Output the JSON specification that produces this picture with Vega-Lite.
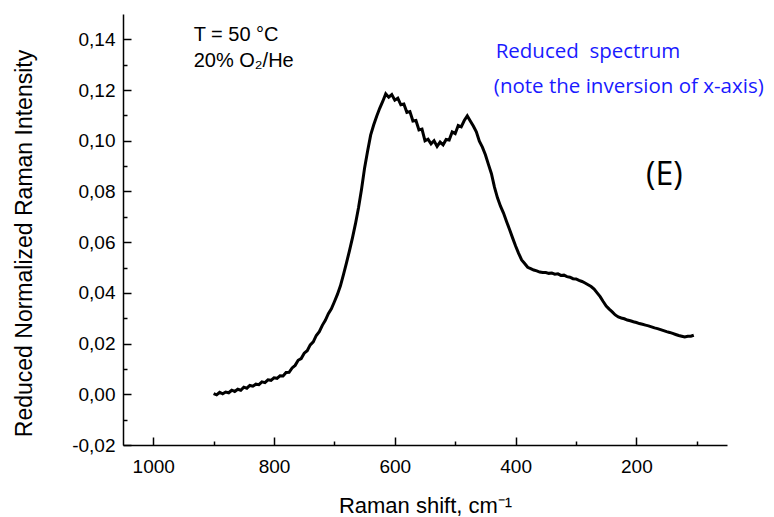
{
  "$schema": "https://vega.github.io/schema/vega-lite/v6.json",
  "width": 604,
  "height": 431,
  "autosize": {"type": "none"},
  "padding": {"left": 123, "top": 14, "right": 47, "bottom": 72},
  "background": "white",
  "config": {"view": {"stroke": null}},
  "datasets": {
    "spectrum": [
      {"shift": 900, "intensity": 0.0003}, {"shift": 895, "intensity": -0.0002}, {"shift": 890, "intensity": 0.0008}, {"shift": 885, "intensity": 0.0002}, {"shift": 880, "intensity": 0.0009}, {"shift": 875, "intensity": 0.0006}, {"shift": 870, "intensity": 0.0016}, {"shift": 865, "intensity": 0.0011}, {"shift": 860, "intensity": 0.002}, {"shift": 855, "intensity": 0.0016}, {"shift": 850, "intensity": 0.0028}, {"shift": 845, "intensity": 0.0024}, {"shift": 840, "intensity": 0.0035}, {"shift": 835, "intensity": 0.0032}, {"shift": 830, "intensity": 0.004}, {"shift": 825, "intensity": 0.0038}, {"shift": 820, "intensity": 0.0049}, {"shift": 815, "intensity": 0.0046}, {"shift": 810, "intensity": 0.0057}, {"shift": 805, "intensity": 0.0055}, {"shift": 800, "intensity": 0.0065}, {"shift": 795, "intensity": 0.0063}, {"shift": 790, "intensity": 0.0073}, {"shift": 785, "intensity": 0.0072}, {"shift": 780, "intensity": 0.0086}, {"shift": 775, "intensity": 0.0087}, {"shift": 770, "intensity": 0.0104}, {"shift": 765, "intensity": 0.0114}, {"shift": 760, "intensity": 0.0134}, {"shift": 755, "intensity": 0.0141}, {"shift": 750, "intensity": 0.0162}, {"shift": 745, "intensity": 0.0172}, {"shift": 740, "intensity": 0.0195}, {"shift": 735, "intensity": 0.0207}, {"shift": 730, "intensity": 0.0232}, {"shift": 725, "intensity": 0.0247}, {"shift": 720, "intensity": 0.0272}, {"shift": 715, "intensity": 0.0292}, {"shift": 710, "intensity": 0.0318}, {"shift": 705, "intensity": 0.0337}, {"shift": 700, "intensity": 0.0365}, {"shift": 695, "intensity": 0.0394}, {"shift": 690, "intensity": 0.0428}, {"shift": 685, "intensity": 0.0472}, {"shift": 680, "intensity": 0.0518}, {"shift": 675, "intensity": 0.0567}, {"shift": 670, "intensity": 0.0618}, {"shift": 665, "intensity": 0.0674}, {"shift": 660, "intensity": 0.0737}, {"shift": 655, "intensity": 0.081}, {"shift": 650, "intensity": 0.0893}, {"shift": 645, "intensity": 0.096}, {"shift": 640, "intensity": 0.1022}, {"shift": 635, "intensity": 0.1062}, {"shift": 630, "intensity": 0.1097}, {"shift": 625, "intensity": 0.1128}, {"shift": 620, "intensity": 0.1155}, {"shift": 615, "intensity": 0.1185}, {"shift": 610, "intensity": 0.1172}, {"shift": 605, "intensity": 0.1182}, {"shift": 600, "intensity": 0.116}, {"shift": 595, "intensity": 0.1168}, {"shift": 590, "intensity": 0.1142}, {"shift": 585, "intensity": 0.1145}, {"shift": 580, "intensity": 0.1112}, {"shift": 575, "intensity": 0.1115}, {"shift": 570, "intensity": 0.1078}, {"shift": 565, "intensity": 0.108}, {"shift": 560, "intensity": 0.1043}, {"shift": 555, "intensity": 0.1046}, {"shift": 550, "intensity": 0.1}, {"shift": 545, "intensity": 0.1006}, {"shift": 540, "intensity": 0.0988}, {"shift": 535, "intensity": 0.1}, {"shift": 530, "intensity": 0.0978}, {"shift": 525, "intensity": 0.0995}, {"shift": 520, "intensity": 0.0984}, {"shift": 515, "intensity": 0.1005}, {"shift": 510, "intensity": 0.1003}, {"shift": 505, "intensity": 0.1035}, {"shift": 500, "intensity": 0.1028}, {"shift": 495, "intensity": 0.106}, {"shift": 490, "intensity": 0.1055}, {"shift": 485, "intensity": 0.108}, {"shift": 480, "intensity": 0.1098}, {"shift": 475, "intensity": 0.1078}, {"shift": 470, "intensity": 0.1058}, {"shift": 465, "intensity": 0.1035}, {"shift": 460, "intensity": 0.0998}, {"shift": 455, "intensity": 0.0975}, {"shift": 450, "intensity": 0.0945}, {"shift": 445, "intensity": 0.0907}, {"shift": 440, "intensity": 0.087}, {"shift": 435, "intensity": 0.0817}, {"shift": 430, "intensity": 0.0775}, {"shift": 425, "intensity": 0.0742}, {"shift": 420, "intensity": 0.0715}, {"shift": 415, "intensity": 0.0682}, {"shift": 410, "intensity": 0.065}, {"shift": 405, "intensity": 0.0617}, {"shift": 400, "intensity": 0.0585}, {"shift": 395, "intensity": 0.0556}, {"shift": 390, "intensity": 0.053}, {"shift": 385, "intensity": 0.0516}, {"shift": 380, "intensity": 0.0501}, {"shift": 375, "intensity": 0.0496}, {"shift": 370, "intensity": 0.049}, {"shift": 365, "intensity": 0.0487}, {"shift": 360, "intensity": 0.0482}, {"shift": 355, "intensity": 0.048}, {"shift": 350, "intensity": 0.048}, {"shift": 345, "intensity": 0.0477}, {"shift": 340, "intensity": 0.0478}, {"shift": 335, "intensity": 0.0474}, {"shift": 330, "intensity": 0.0475}, {"shift": 325, "intensity": 0.0469}, {"shift": 320, "intensity": 0.047}, {"shift": 315, "intensity": 0.0464}, {"shift": 310, "intensity": 0.0462}, {"shift": 305, "intensity": 0.0456}, {"shift": 300, "intensity": 0.0455}, {"shift": 295, "intensity": 0.0449}, {"shift": 290, "intensity": 0.0445}, {"shift": 285, "intensity": 0.0439}, {"shift": 280, "intensity": 0.0432}, {"shift": 275, "intensity": 0.0425}, {"shift": 270, "intensity": 0.0415}, {"shift": 265, "intensity": 0.04}, {"shift": 260, "intensity": 0.0385}, {"shift": 255, "intensity": 0.0366}, {"shift": 250, "intensity": 0.0348}, {"shift": 245, "intensity": 0.0336}, {"shift": 240, "intensity": 0.0325}, {"shift": 235, "intensity": 0.0313}, {"shift": 230, "intensity": 0.0305}, {"shift": 225, "intensity": 0.0301}, {"shift": 220, "intensity": 0.0298}, {"shift": 215, "intensity": 0.0293}, {"shift": 210, "intensity": 0.029}, {"shift": 205, "intensity": 0.0286}, {"shift": 200, "intensity": 0.0283}, {"shift": 195, "intensity": 0.0279}, {"shift": 190, "intensity": 0.0276}, {"shift": 185, "intensity": 0.0273}, {"shift": 180, "intensity": 0.027}, {"shift": 175, "intensity": 0.0266}, {"shift": 170, "intensity": 0.0262}, {"shift": 165, "intensity": 0.0259}, {"shift": 160, "intensity": 0.0255}, {"shift": 155, "intensity": 0.0251}, {"shift": 150, "intensity": 0.0247}, {"shift": 145, "intensity": 0.0244}, {"shift": 140, "intensity": 0.024}, {"shift": 135, "intensity": 0.0236}, {"shift": 130, "intensity": 0.0232}, {"shift": 125, "intensity": 0.0229}, {"shift": 120, "intensity": 0.0226}, {"shift": 115, "intensity": 0.0229}, {"shift": 110, "intensity": 0.0229}, {"shift": 105, "intensity": 0.0233}
    ],
    "notes": [
      {"shift": 933, "intensity": 0.1392, "label": "T = 50 °C", "group": "cond"},
      {"shift": 933, "intensity": 0.1292, "label": "20% O₂/He", "group": "cond"},
      {"shift": 433, "intensity": 0.1325, "label": "Reduced\u00a0 spectrum", "group": "blue"},
      {"shift": 436, "intensity": 0.1187, "label": "(note the inversion of x-axis)", "group": "blue"},
      {"shift": 184, "intensity": 0.0825, "label": "(E)", "group": "panel"}
    ]
  },
  "encoding": {
    "x": {
      "field": "shift", "type": "quantitative",
      "scale": {"domain": [50, 1050], "reverse": true, "nice": false, "zero": false},
      "axis": {
        "title": "Raman shift, cm⁻¹",
        "values": [100, 200, 300, 400, 500, 600, 700, 800, 900, 1000],
        "tickSize": {"condition": {"test": "datum.value % 200 === 0", "value": -8}, "value": -4},
        "labelExpr": "datum.value % 200 === 0 ? format(datum.value, 'd') : ''",
        "grid": false,
        "domainColor": "black", "domainWidth": 1.5,
        "tickColor": "black", "tickWidth": 1.5,
        "labelFont": "Liberation Sans", "labelFontSize": 19, "labelColor": "black",
        "labelPadding": 20,
        "titleFont": "Liberation Sans", "titleFontSize": 22, "titleFontWeight": "normal", "titleColor": "black",
        "titlePadding": 19
      }
    },
    "y": {
      "field": "intensity", "type": "quantitative",
      "scale": {"domain": [-0.02, 0.15], "nice": false, "zero": false},
      "axis": {
        "title": "Reduced Normalized Raman Intensity",
        "titleY": 229,
        "values": [-0.02, -0.01, 0, 0.01, 0.02, 0.03, 0.04, 0.05, 0.06, 0.07, 0.08, 0.09, 0.1, 0.11, 0.12, 0.13, 0.14],
        "tickSize": {"condition": {"test": "round(datum.value * 100) % 2 === 0", "value": -8}, "value": -4},
        "labelExpr": "round(datum.value * 100) % 2 === 0 ? replace(replace(format(datum.value, '.2f'), '.', ','), '−', '-') : ''",
        "grid": false,
        "domainColor": "black", "domainWidth": 1.5,
        "tickColor": "black", "tickWidth": 1.5,
        "labelFont": "Liberation Sans", "labelFontSize": 19, "labelColor": "black",
        "labelPadding": 16,
        "titleFont": "Liberation Sans", "titleFontSize": 23, "titleFontWeight": "normal", "titleColor": "black",
        "titlePadding": 35
      }
    }
  },
  "layer": [
    {
      "data": {"name": "spectrum"},
      "mark": {"type": "line", "color": "black", "strokeWidth": 3, "clip": false}
    },
    {
      "data": {"name": "notes"},
      "transform": [{"filter": "datum.group === 'cond'"}],
      "mark": {"type": "text", "align": "left", "baseline": "alphabetic", "font": "Liberation Sans", "fontSize": 20, "color": "black"},
      "encoding": {"text": {"field": "label"}}
    },
    {
      "data": {"name": "notes"},
      "transform": [{"filter": "datum.group === 'blue'"}],
      "mark": {"type": "text", "align": "left", "baseline": "alphabetic", "font": "Open Sans", "fontSize": 20.5, "color": "#1a1aff"},
      "encoding": {"text": {"field": "label"}}
    },
    {
      "data": {"name": "notes"},
      "transform": [{"filter": "datum.group === 'panel'"}],
      "mark": {"type": "text", "align": "left", "baseline": "alphabetic", "font": "Open Sans", "fontSize": 32, "color": "black"},
      "encoding": {"text": {"field": "label"}}
    }
  ]
}
